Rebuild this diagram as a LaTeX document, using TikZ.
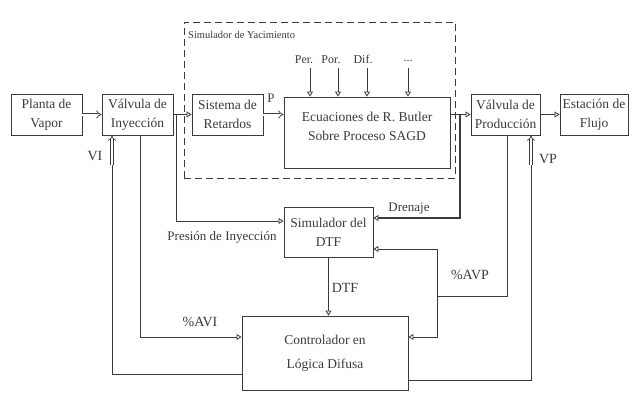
\documentclass[tikz,border=0pt]{standalone}
\usepackage{fontspec}
\setmainfont{Liberation Serif}
\usetikzlibrary{arrows.meta}
\definecolor{ink}{HTML}{3A3A3A}
\begin{document}
\begin{tikzpicture}[x=1pt,y=-1pt,
  every node/.style={font=\fontsize{13}{19}\selectfont, text=ink},
  box/.style={draw=ink, line width=0.9pt, align=center, inner sep=1pt, font=\fontsize{13.5}{19}\selectfont},
  lbl/.style={inner sep=1pt, text height=9pt, text depth=2pt},
  small/.style={font=\fontsize{12}{14}\selectfont},
  ln/.style={draw=ink, line width=0.8pt},
  thk/.style={draw=ink, line width=1.4pt},
  hol/.style={-{Triangle[open,length=5pt,width=6pt,line width=0.8pt]}},
  dbl/.style={draw=ink, double=white, double distance=2pt, line width=0.7pt, -{Implies}},
]
\useasboundingbox (0,0) rectangle (632,392);

% dashed simulator frame
\node[draw=ink, line width=0.8pt, dash pattern=on 7pt off 4pt,
      minimum width=271pt, minimum height=156pt, inner sep=0pt] (sim) at (319.5,100) {};
\node[lbl, anchor=west, font=\fontsize{10.5}{12}\selectfont] (simlbl) at (187,35) {Simulador de Yacimiento};

% boxes
\node[box, minimum width=71pt, minimum height=41pt] (planta) at (46.5,114.5) {Planta de\\Vapor};
\node[box, minimum width=71pt, minimum height=41pt] (viny) at (137.5,114.5) {Válvula de\\Inyección};
\node[box, minimum width=71pt, minimum height=41pt] (sist) at (227.5,114.5) {Sistema de\\Retardos};
\node[box, minimum width=166pt, minimum height=71pt] (ecu) at (367,132.5) {Ecuaciones de R. Butler\\Sobre Proceso SAGD\\[-6pt]};
\node[box, minimum width=69pt, minimum height=41pt] (vprod) at (505.5,114.5) {Válvula de\\Producción};
\node[box, minimum width=68pt, minimum height=41pt] (est) at (594,114.5) {Estación de\\Flujo};
\node[box, minimum width=89pt, minimum height=50pt] (dtf) at (328.5,232) {Simulador del\\DTF};
\node[box, minimum width=166pt, minimum height=74pt, font=\fontsize{13.5}{24}\selectfont] (ctrl) at (325,353) {Controlador en\\Lógica Difusa};

% parameter inputs
\node[lbl, small] (per) at (304,60) {Per.};
\node[lbl, small] (por) at (331,60) {Por.};
\node[lbl, small] (dif) at (363,60) {Dif.};
\node[lbl, small] (dots) at (408,58) {...};
\coordinate (pa1) at (310,68);
\coordinate (pa2) at (338,68);
\coordinate (pa3) at (367,68);
\coordinate (pa4) at (408,68);
\foreach \n in {pa1,pa2,pa3,pa4}
  \draw[ln, hol] (\n) -- (\n |- ecu.north);

% main flow
\draw[dbl] (planta.east) -- (viny.west);
\draw[thk, hol] (viny.east) -- (sist.west);
\draw[dbl] (sist.east) -- (sist.east -| ecu.west);
\node[lbl] (plbl) at (271,99) {P};
\draw[thk, hol] (ecu.east |- vprod.west) -- (vprod.west);
\draw[thk, hol] (vprod.east) -- (est.west);

% Presion de Inyeccion
\coordinate (jP) at (176,115);
\coordinate (pr) at (176,221);
\draw[ln, hol] (jP) -- (pr) -- (pr -| dtf.west);
\node[lbl] (prlbl) at (222,237) {Presión de Inyección};

% Drenaje
\coordinate (jD) at (460,115);
\coordinate (dr) at (460,218);
\draw[thk, hol] (jD) -- (dr) -- (dr -| dtf.east);
\node[lbl] (drlbl) at (409,208) {Drenaje};

% DTF to controller
\draw[ln, hol] (dtf.south) -- (dtf.south |- ctrl.north);
\node[lbl, font=\fontsize{14}{16}\selectfont] (dtflbl) at (345,289) {DTF};

% %AVI
\coordinate (avi) at (140,337);
\draw[ln, hol] (avi |- viny.south) -- (avi) -- (avi -| ctrl.west);
\node[lbl, font=\fontsize{14}{16}\selectfont] (avilbl) at (200,323) {\%AVI};

% %AVP
\coordinate (jA) at (437,296);
\coordinate (a1) at (437,249);
\coordinate (a2) at (437,337);
\coordinate (avp) at (507,296);
\draw[ln] (avp |- vprod.south) -- (avp) -- (jA);
\draw[ln, hol] (jA) -- (a1) -- (a1 -| dtf.east);
\draw[ln, hol] (jA) -- (a2) -- (a2 -| ctrl.east);
\node[lbl, font=\fontsize{14}{16}\selectfont] (avplbl) at (470,276) {\%AVP};

% VI feedback
\coordinate (vi1) at (112,165);
\coordinate (vi2) at (112,374);
\draw[ln] (ctrl.west |- vi2) -- (vi2) -- (vi1);
\draw[dbl] (vi1) -- (vi1 |- viny.south);
\node[lbl, font=\fontsize{14}{16}\selectfont] (vilbl) at (95,157) {VI};

% VP feedback
\coordinate (vp1) at (531,165);
\coordinate (vp2) at (531,380);
\draw[ln] (ctrl.east |- vp2) -- (vp2) -- (vp1);
\draw[dbl] (vp1) -- (vp1 |- vprod.south);
\node[lbl, font=\fontsize{14}{16}\selectfont] (vplbl) at (548,160) {VP};
\end{tikzpicture}
\end{document}
